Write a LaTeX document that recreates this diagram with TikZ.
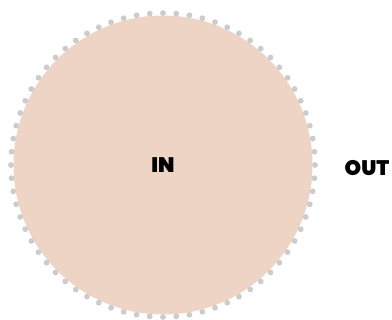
\documentclass[tikz,border=0pt]{standalone}
\usepackage{fontspec}
\setmainfont{Poppins}[BoldFont={Poppins Black}]
\usetikzlibrary{calc}
\definecolor{peach}{RGB}{237,212,197}
\definecolor{dotgray}{RGB}{204,204,204}
\begin{document}
\begin{tikzpicture}[
    x=1pt, y=-1pt,
    disc/.style={
        circle, fill=peach, minimum size=299pt, inner sep=0pt,
        font=\bfseries\fontsize{21}{21}\selectfont
    },
    dotmark/.style={circle, fill=dotgray, inner sep=0pt, minimum size=5.8pt},
    outlabel/.style={font=\bfseries\fontsize{21}{21}\selectfont, inner sep=0pt}
]
\useasboundingbox (0,0) rectangle (392,320);

% ==================== DISC ====================
\node[disc] (in) at (163,165) {IN};

% dotted rim
\foreach \a in {0,5,...,355}
    \node[dotmark] (rim\a) at ($(in.center)+(\a:152)$) {};

% ==================== OUTSIDE ====================
\node[outlabel] (out) at (367,168) {OUT};

\end{tikzpicture}
\end{document}
